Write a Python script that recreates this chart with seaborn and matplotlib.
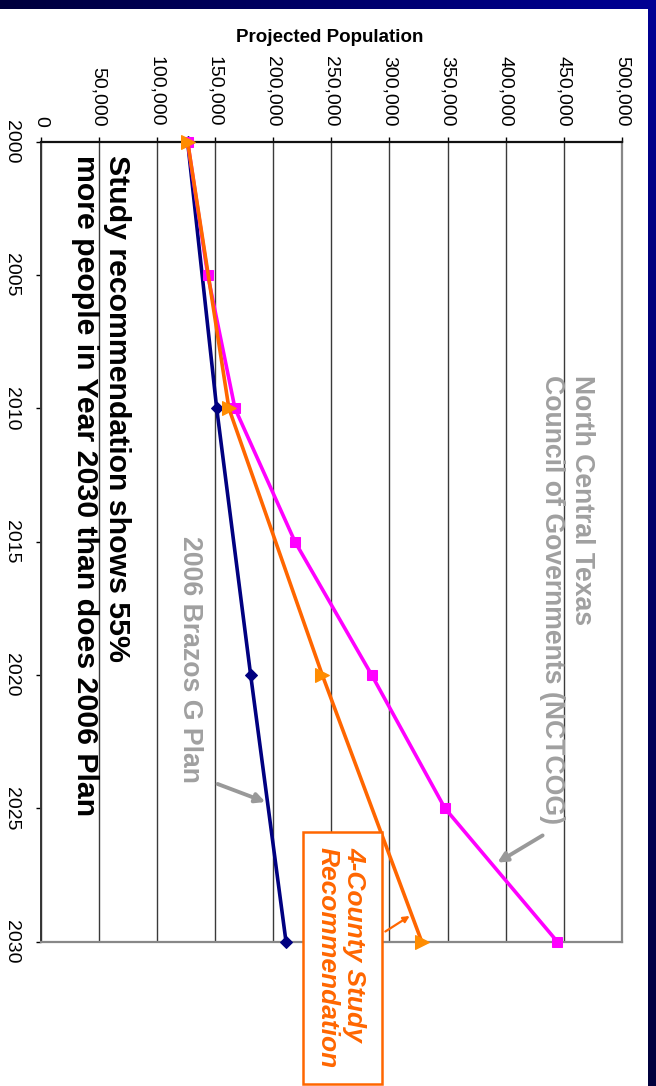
import numpy as np
import pandas as pd
import matplotlib
matplotlib.use("Agg")
import matplotlib.pyplot as plt
import seaborn as sns
from matplotlib.patches import Rectangle, FancyArrowPatch
from matplotlib.colors import LinearSegmentedColormap
from matplotlib.ticker import FuncFormatter

# ---------------- data ----------------
years_brazos = [2000, 2010, 2020, 2030]
pop_brazos = [126500, 151500, 180700, 211100]

years_nctcog = [2000, 2005, 2010, 2015, 2020, 2025, 2030]
pop_nctcog = [126500, 143800, 167200, 218800, 284800, 347800, 444400]

years_county = [2000, 2010, 2020, 2030]
pop_county = [126500, 162000, 242300, 327800]

pop_ticks = list(range(0, 500001, 50000))
year_ticks = [2000, 2005, 2010, 2015, 2020, 2025, 2030]

title_text = "Projected Population"
main_note = "Study recommendation shows 55%\nmore people in Year 2030 than does 2006 Plan"
nctcog_note = "North Central Texas\nCouncil of Governments (NCTCOG)"
brazos_note = "2006 Brazos G Plan"
county_note = "4-County Study\nRecommendation"

# ---------------- style ----------------
sns.set_theme(style="white")
plt.rcParams["font.family"] = ["Liberation Sans", "DejaVu Sans"]

W, H = 656, 1086
fig = plt.figure(figsize=(W / 100, H / 100), dpi=100)
fig.patch.set_facecolor("white")


def P(x, y):
    return (x / W, 1 - y / H)


# frame bands (gradient)
cmap = LinearSegmentedColormap.from_list("nv", ["#00003C", "#000094"])
band_top = fig.add_axes([0, 1 - 9 / H, 1, 9 / H])
band_top.imshow(np.linspace(0, 1, 256)[None, :], cmap=cmap, aspect="auto")
band_top.axis("off")
band_right = fig.add_axes([648 / W, 0, 8 / W, 1])
band_right.imshow(np.linspace(1, 0, 256)[:, None], cmap=cmap, aspect="auto")
band_right.axis("off")

# main axes
x0, x1 = 40.5, 622.0
y0, y1 = 141.7, 941.7
ax = fig.add_axes([x0 / W, 1 - y1 / H, (x1 - x0) / W, (y1 - y0) / H])
ax.set_facecolor("white")

df_b = pd.DataFrame({"pop": pop_brazos, "year": years_brazos})
df_n = pd.DataFrame({"pop": pop_nctcog, "year": years_nctcog})
df_c = pd.DataFrame({"pop": pop_county, "year": years_county})

sns.lineplot(data=df_b, x="pop", y="year", sort=False, estimator=None, ax=ax,
             color="#000080", lw=2.6, marker="D", markersize=6.5,
             markeredgecolor="#000080", markerfacecolor="#000080", clip_on=False, zorder=3)
sns.lineplot(data=df_n, x="pop", y="year", sort=False, estimator=None, ax=ax,
             color="#FF00FF", lw=2.6, marker="s", markersize=7.8,
             markeredgecolor="#FF00FF", markerfacecolor="#FF00FF", clip_on=False, zorder=4)
sns.lineplot(data=df_c, x="pop", y="year", sort=False, estimator=None, ax=ax,
             color="#FF6600", lw=2.6, marker=">", markersize=9.5,
             markeredgecolor="#FF8C00", markerfacecolor="#FF8C00", clip_on=False, zorder=5)

ax.set_xlim(0, 500000)
ax.set_ylim(2030, 2000)
ax.set_xlabel("")
ax.set_ylabel("")

ax.set_xticks(pop_ticks)
ax.xaxis.set_major_formatter(FuncFormatter(lambda v, p: f"{int(v):,}"))
ax.set_yticks(year_ticks)
ax.tick_params(axis="x", top=True, bottom=False, labeltop=True, labelbottom=False,
               direction="out", length=3.6, width=1, color="black", pad=7,
               labelsize=14, labelrotation=-90, labelcolor="black")
ax.tick_params(axis="y", left=True, right=False, direction="out", length=3.6,
               width=1, color="black", pad=11.5, labelsize=14, labelrotation=-90,
               labelcolor="black")
for lab in ax.get_yticklabels():
    lab.set_verticalalignment("center")

ax.grid(axis="x", color="#3a3a3a", lw=1.0)
ax.grid(axis="y", visible=False)
for side, col, lw in [("top", "#111111", 1.6), ("left", "#333333", 1.4),
                      ("right", "#888888", 1.6), ("bottom", "#888888", 1.6)]:
    ax.spines[side].set_visible(True)
    ax.spines[side].set_color(col)
    ax.spines[side].set_linewidth(lw)

# title
fig.text(*P(330, 38), title_text, ha="center", va="center", fontsize=13.5,
         fontweight="bold", color="black")

# main note
fig.text(*P(101, 155), main_note, rotation=-90, rotation_mode="anchor",
         ha="left", va="center", fontsize=21.8, fontweight="bold",
         color="black", linespacing=1.15)

# NCTCOG note
fig.text(*P(567, 375), nctcog_note, rotation=-90, rotation_mode="anchor",
         ha="left", va="center", fontsize=19.2, fontweight="bold",
         color="#A0A0A0", linespacing=1.2)
fig.add_artist(FancyArrowPatch(P(545, 834), P(495, 864), transform=fig.transFigure,
                               arrowstyle="-|>", mutation_scale=14, color="#999999",
                               lw=2.8, zorder=6))

# Brazos note
fig.text(*P(190, 536), brazos_note, rotation=-90, rotation_mode="anchor",
         ha="left", va="center", fontsize=19.2, fontweight="bold", color="#A0A0A0")
fig.add_artist(FancyArrowPatch(P(215, 783), P(268, 803), transform=fig.transFigure,
                               arrowstyle="-|>", mutation_scale=14, color="#999999",
                               lw=2.8, zorder=6))

# 4-County note box
bx0, bx1, by0, by1 = 302.7, 381.7, 831.7, 1084
fig.add_artist(Rectangle(P(bx0, by1), (bx1 - bx0) / W, (by1 - by0) / H,
                         transform=fig.transFigure, facecolor="white",
                         edgecolor="#FF6600", lw=1.8, zorder=7))
fig.text(*P(341, 847), county_note, rotation=-90, rotation_mode="anchor",
         ha="left", va="center", fontsize=19, fontweight="bold", style="italic",
         color="#FF6600", linespacing=1.2, zorder=8)
fig.add_artist(FancyArrowPatch(P(383, 933), P(412, 914.5), transform=fig.transFigure,
                               arrowstyle="-|>", mutation_scale=9, color="#FF6600",
                               lw=1.6, zorder=8))

fig.savefig("out.png", dpi=100)
